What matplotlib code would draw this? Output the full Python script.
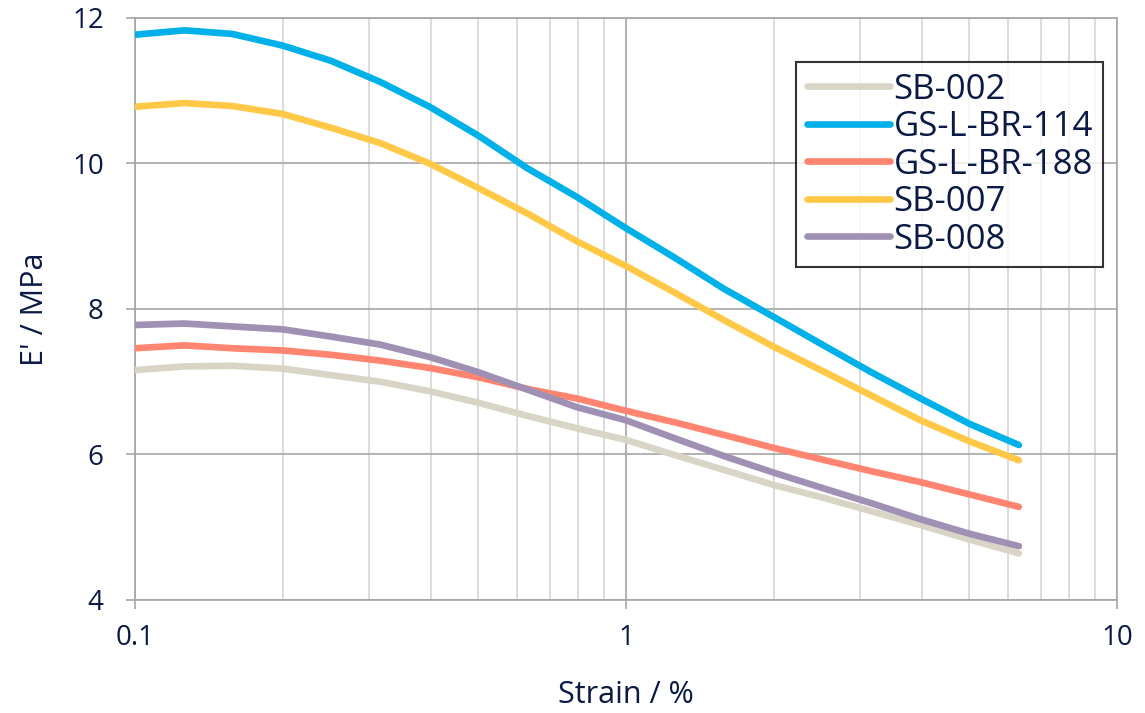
import numpy as np
import matplotlib
matplotlib.use("Agg")
import matplotlib.pyplot as plt
from matplotlib.ticker import FixedLocator, NullFormatter

plt.rcParams['font.family'] = ['Open Sans', 'DejaVu Sans']
txt = '#0b1a45'

# strain points (10 per decade)
strain = [0.1, 0.126, 0.158, 0.2, 0.251, 0.316, 0.398, 0.501, 0.631, 0.794,
          1.0, 1.26, 1.58, 2.0, 2.51, 3.16, 3.98, 5.01, 6.31]

sb_002 = [7.16, 7.21, 7.22, 7.18, 7.09, 7.00, 6.87, 6.71, 6.53, 6.36,
          6.20, 5.99, 5.79, 5.58, 5.41, 5.22, 5.03, 4.83, 4.64]
gs_114 = [11.77, 11.83, 11.78, 11.62, 11.41, 11.12, 10.78, 10.38, 9.93, 9.54,
          9.11, 8.70, 8.28, 7.89, 7.51, 7.13, 6.77, 6.42, 6.13]
gs_188 = [7.46, 7.50, 7.46, 7.43, 7.37, 7.29, 7.19, 7.06, 6.90, 6.77,
          6.60, 6.44, 6.27, 6.09, 5.93, 5.77, 5.62, 5.45, 5.28]
sb_007 = [10.78, 10.83, 10.79, 10.68, 10.49, 10.28, 10.00, 9.66, 9.31, 8.93,
          8.59, 8.22, 7.85, 7.48, 7.15, 6.81, 6.47, 6.18, 5.92]
sb_008 = [7.78, 7.80, 7.76, 7.72, 7.62, 7.51, 7.34, 7.13, 6.89, 6.65,
          6.47, 6.22, 5.98, 5.75, 5.54, 5.33, 5.11, 4.91, 4.74]

names = ['SB-002', 'GS-L-BR-114', 'GS-L-BR-188', 'SB-007', 'SB-008']
series = [sb_002, gs_114, gs_188, sb_007, sb_008]
colors = ['#d8d5c6', '#00b0e8', '#ff8571', '#ffc847', '#9f90b4']

fig = plt.figure(figsize=(11.45, 7.13), dpi=100)
ax = fig.add_axes([0.1179, 0.1585, 0.8577, 0.8163])

for name, vals, c in zip(names, series, colors):
    ax.plot(strain, vals, color=c, lw=4.8, label=name, solid_capstyle='round', zorder=3)

ax.set_xscale('log')
ax.set_xlim(0.1, 10)
ax.set_ylim(4, 12)
ax.xaxis.set_major_locator(FixedLocator([0.1, 1, 10]))
ax.set_xticklabels(['0.1', '1', '10'])
ax.xaxis.set_minor_locator(FixedLocator([k * 10.0**e for e in (-1, 0) for k in range(2, 10)]))
ax.xaxis.set_minor_formatter(NullFormatter())
ax.set_yticks([4, 6, 8, 10, 12])

ax.grid(True, which='major', color='#a6a6a6', lw=1.2)
ax.grid(True, which='minor', axis='x', color='#d4d4d4', lw=1.2)
ax.set_axisbelow(True)

for s in ['left', 'bottom', 'top', 'right']:
    ax.spines[s].set_color('#a6a6a6')
    ax.spines[s].set_linewidth(1.2)

ax.tick_params(which='major', length=6.5, width=1.2, color='#a6a6a6', labelsize=20,
               labelcolor=txt, pad=11)
ax.tick_params(axis='y', pad=16)
ax.tick_params(which='minor', length=0)

ax.set_xlabel('Strain / %', fontsize=22, color=txt, labelpad=20)
ax.set_ylabel("E' / MPa", fontsize=22, color=txt, labelpad=16)

leg = ax.legend(loc='upper right', bbox_to_anchor=(0.986, 0.924), fontsize=25,
                frameon=True, fancybox=False, handlelength=2.4, handletextpad=0.1,
                labelspacing=0.1, borderpad=0.3, borderaxespad=0)
leg.get_frame().set_edgecolor('black')
leg.get_frame().set_linewidth(1.5)
for t in leg.get_texts():
    t.set_color(txt)

plt.savefig('out.png', dpi=100)
